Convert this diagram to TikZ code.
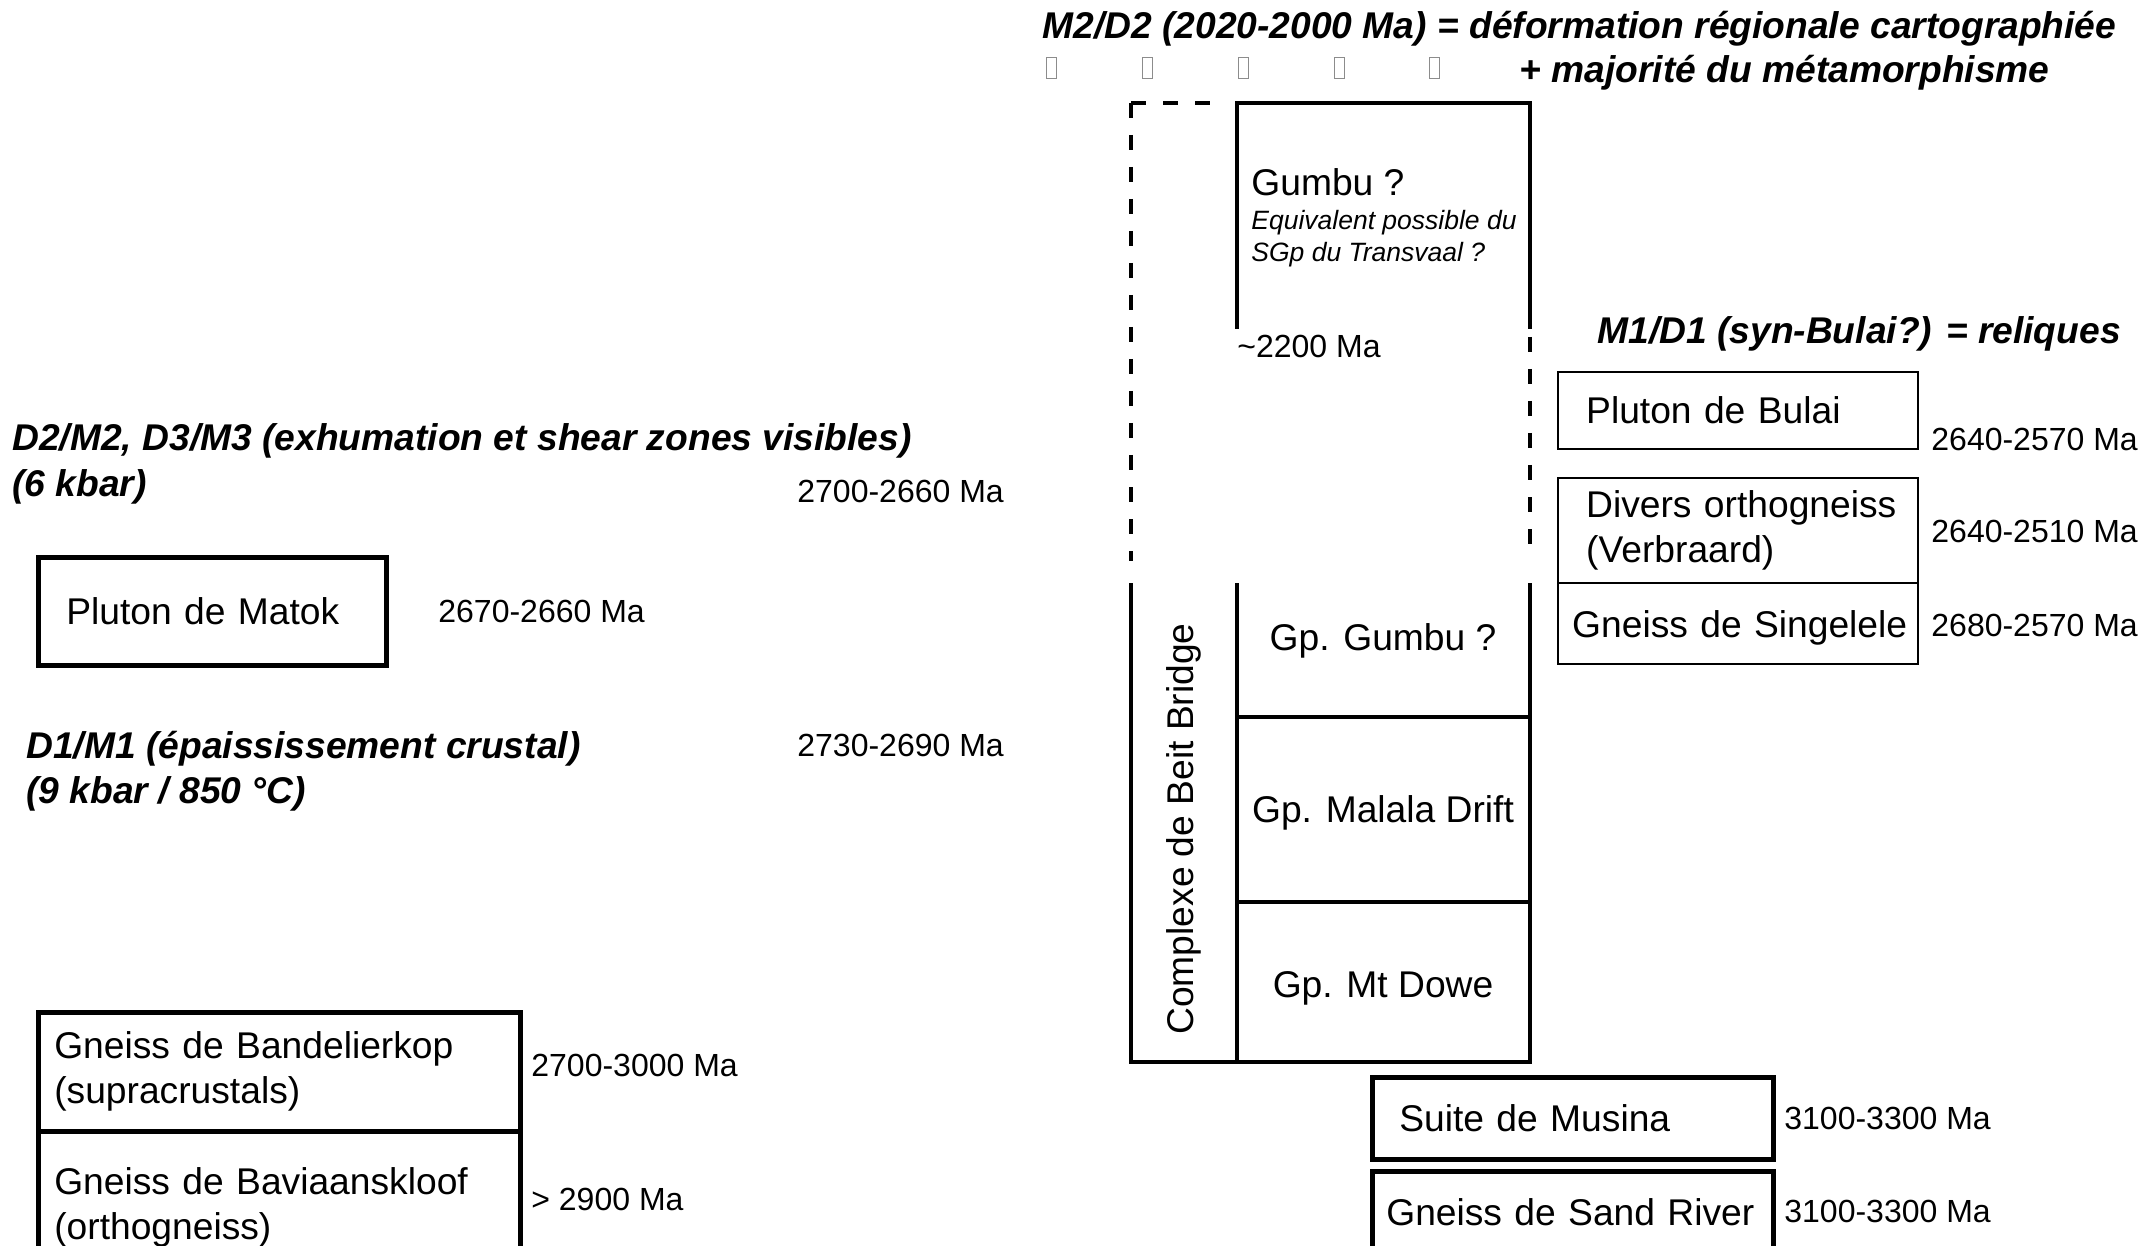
\documentclass[tikz,border=0pt]{standalone}
\usepackage{fontspec}
\setmainfont{Liberation Sans}
\usetikzlibrary{positioning}

\begin{document}
\begin{tikzpicture}[
  x=0.5pt, y=-0.5pt,
  font=\fontsize{18.6}{22.5}\selectfont,
  hdr/.style={anchor=base west, inner sep=0pt,
              font=\fontsize{18.6}{22.5}\selectfont\bfseries\itshape},
  age/.style={anchor=base west, inner sep=0pt,
              font=\fontsize{16}{19}\selectfont},
  note/.style={anchor=base west, inner sep=0pt,
               font=\fontsize{13.25}{16}\selectfont\itshape},
  unit/.style={draw, line width=2.3pt, anchor=north west, align=left,
               inner ysep=0pt},
  relic/.style={unit, line width=1.2pt},
  glyph/.style={draw=black!45, line width=0.5pt, inner sep=0pt,
                minimum width=5pt, minimum height=10.5pt},
  bord/.style={line width=2.3pt},
  lost/.style={bord, dash pattern=on 7.5pt off 8.5pt},
]
\clip (0,0) rectangle (2144,1246);

% ---- M2/D2 header ---------------------------------------------------------
\node[hdr] (mdtwo)  at (1042,39)
  {M2/D2 (2020-2000 Ma) = déformation régionale cartographiée};
\foreach \x [count=\i] in {1051,1147,1243,1339,1434}
  \node[glyph] (sq\i) at (\x,68) {};
\node[hdr] (mdtwob) at (1519,83) {+ majorité du métamorphisme};

% ---- left: Central Zone events ------------------------------------------
\node[hdr] (dtwo)  at (12,451) {D2/M2, D3/M3 (exhumation et shear zones visibles)};
\node[hdr] (dtwob) at (12,496) {(6 kbar)};
\node[age] (adtwo) at (797,502.5) {2700-2660 Ma};

\node[unit, text width=146pt, inner xsep=14pt, minimum height=54pt]
  (matok) at (36,555) {Pluton de Matok};
\node[age] (amatok) at (438,622.5) {2670-2660 Ma};

\node[hdr] (done)  at (26,758) {D1/M1 (épaississement crustal)};
\node[hdr] (doneb) at (26,803) {(9 kbar / 850 °C)};
\node[age] (adone) at (797,756.5) {2730-2690 Ma};

\node[unit, text width=225pt, inner xsep=8pt, minimum height=59.5pt]
  (bandel) at (36,1010) {Gneiss de Bandelierkop\\(supracrustals)};
\node[age] (abandel) at (531,1076.5) {2700-3000 Ma};
\node[unit, text width=225pt, inner xsep=8pt, minimum height=76pt]
  (baviaan) at (36,1129) {Gneiss de Baviaanskloof\\(orthogneiss)};
\node[age] (abaviaan) at (531,1210.5) {> 2900 Ma};

% ---- Beit Bridge column -------------------------------------------------
\draw[lost] (1131,103) -- (1224,103);
\draw[lost] (1131,103) -- (1131,561);
\draw[bord] (1237,329) -- (1237,103) -- (1530,103) -- (1530,329);
\draw[lost] (1530,337) -- (1530,551);
\draw[bord] (1131,583) -- (1131,1062) -- (1530,1062) -- (1530,583);
\draw[bord] (1237,583) -- (1237,1062);
\draw[bord] (1237,717) -- (1530,717);
\draw[bord] (1237,902) -- (1530,902);

\node[hdr, font=\fontsize{18.6}{22.5}\selectfont] (gumbu) at (1251,196) {Gumbu ?};
\node[note] (gumbua) at (1251,229.5) {Equivalent possible du};
\node[note] (gumbub) at (1251,261.5) {SGp du Transvaal ?};
\node[age] (agumbu) at (1237,357.5) {\textasciitilde 2200 Ma};

\node (cbb) at (1184,829) [rotate=90] {Complexe de Beit Bridge};
\node (gpgumbu)  at (1383,641) {Gp. Gumbu ?};
\node (gpmalala) at (1383,813) {Gp. Malala Drift};
\node (gpdowe)   at (1383,988) {Gp. Mt Dowe};

% ---- M1/D1 relics -------------------------------------------------------
\node[hdr] (mdone) at (1597,344) {M1/D1 (syn-Bulai?) = reliques};
\node[relic, text width=152pt, inner xsep=14pt, minimum height=38.5pt]
  (bulai) at (1557,371) {Pluton de Bulai};
\node[age] (abulai) at (1931,450.5) {2640-2570 Ma};
\node[relic, text width=152pt, inner xsep=14pt, minimum height=52.5pt]
  (divers) at (1557,477) {\mbox{Divers orthogneiss}\\(Verbraard)};
\node[age] (adivers) at (1931,542.5) {2640-2510 Ma};
\node[relic, text width=166pt, inner xsep=7pt, minimum height=40.5pt,
      text depth=0pt]
  (singel) at (1557,582) {\mbox{Gneiss de Singelele}};
\node[age] (asingel) at (1931,636.5) {2680-2570 Ma};

% ---- older basement -----------------------------------------------------
\node[unit, text width=173.5pt, inner xsep=13.5pt, minimum height=41pt]
  (musina) at (1370,1075) {Suite de Musina};
\node[age] (amusina) at (1784,1129.5) {3100-3300 Ma};
\node[unit, text width=186.5pt, inner xsep=7pt, minimum height=41pt]
  (sand) at (1370,1169) {Gneiss de Sand River};
\node[age] (asand) at (1784,1222.5) {3100-3300 Ma};

\end{tikzpicture}
\end{document}
